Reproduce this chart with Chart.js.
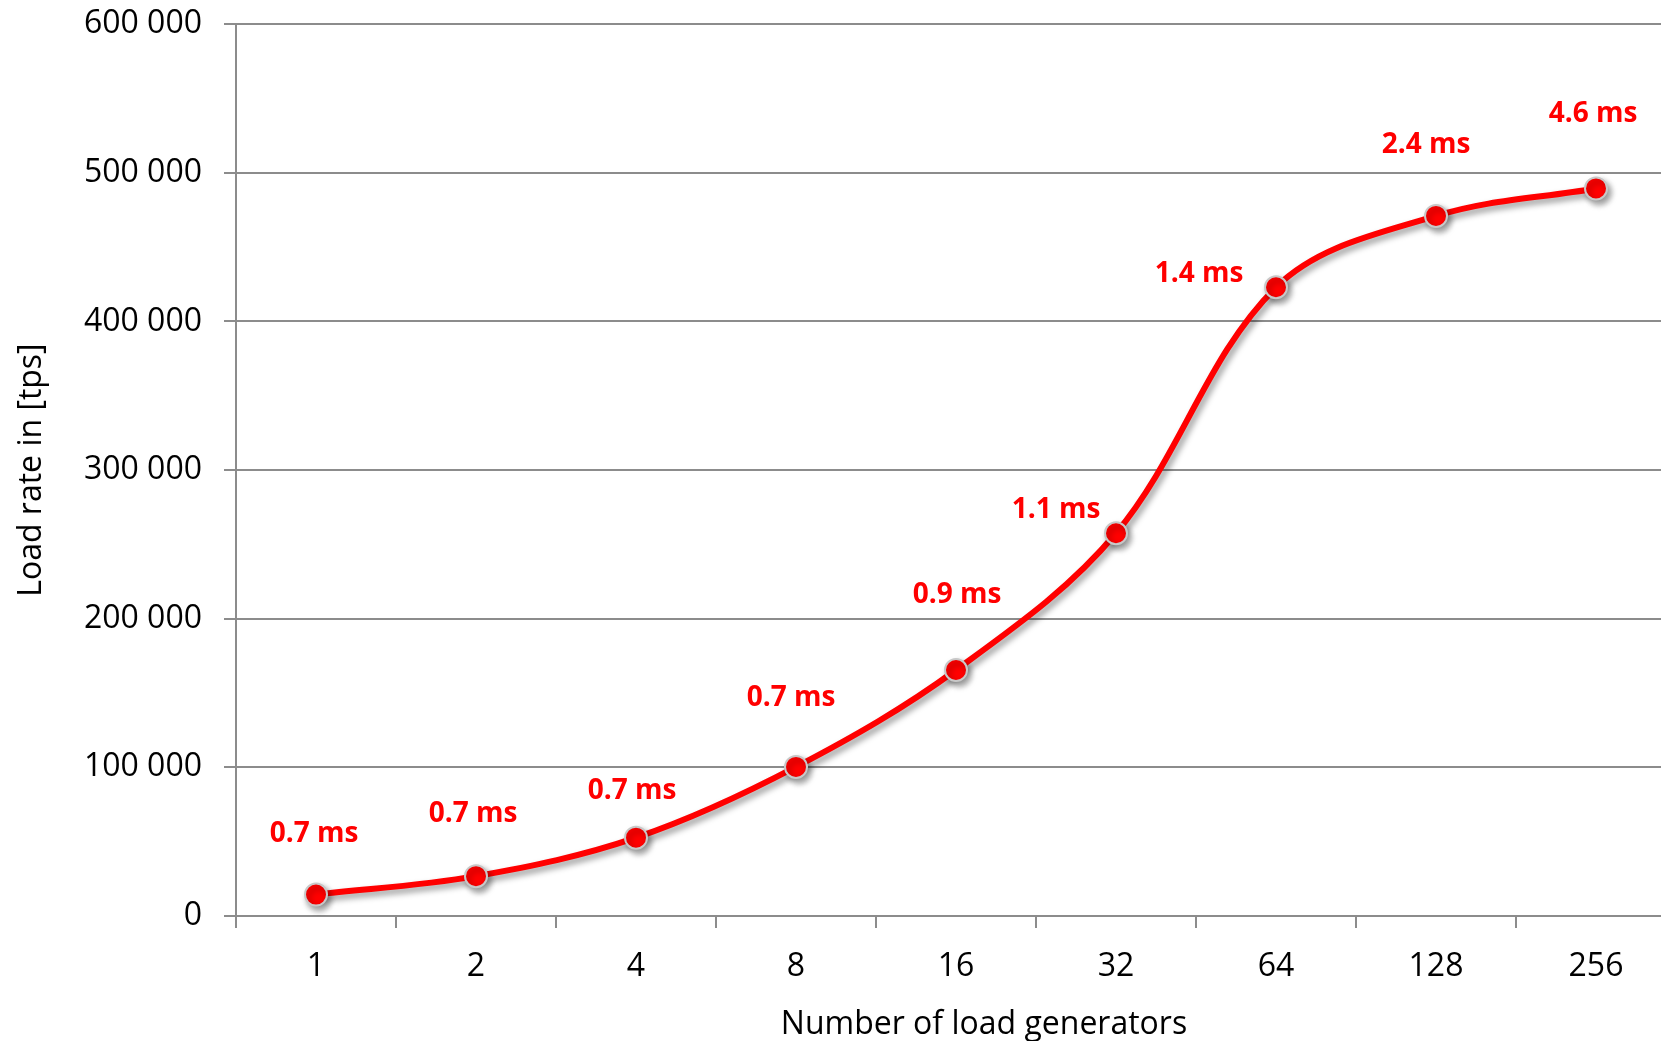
<!DOCTYPE html>
<html>
<head>
<meta charset="utf-8">
<script src="https://cdn.jsdelivr.net/npm/chart.js@4"></script>
<style>
html,body{margin:0;padding:0;background:#fff;overflow:hidden;width:1661px;height:1041px;}
#wrap{position:absolute;left:0;top:-17px;width:1689px;height:1058px;}
</style>
</head>
<body>
<div id="wrap"><canvas id="c" width="1689" height="1058"></canvas></div>
<script>
const categories = ['1','2','4','8','16','32','64','128','256'];
const loadRate = [14400, 26800, 52700, 100300, 165500, 257500, 423000, 471000, 489500];
const latencyLabels = ['0.7 ms','0.7 ms','0.7 ms','0.7 ms','0.9 ms','1.1 ms','1.4 ms','2.4 ms','4.6 ms'];
const yTicks = [0, 100000, 200000, 300000, 400000, 500000, 600000];
const xTitle = 'Number of load generators';
const yTitle = 'Load rate in [tps]';

const FONT = "'Open Sans', 'DejaVu Sans', sans-serif";
const RED = '#ff0000';
const GRID = '#8c8c8c';

// label placement relative to each point (pixels)
const labelOffsets = [[-2,-61],[-3,-62],[-4,-47],[-5,-69],[1,-75],[-60,-23],[-77,-13],[-10,-71],[-3,-74]];

const fmt = v => v.toString().replace(/\B(?=(\d{3})+(?!\d))/g, ' ');

const shadowPlugin = {
  id: 'shadow',
  beforeDatasetDraw(chart) {
    const ctx = chart.ctx;
    ctx.save();
    ctx.shadowColor = 'rgba(0,0,0,0.4)';
    ctx.shadowBlur = 6;
    ctx.shadowOffsetX = 3;
    ctx.shadowOffsetY = 4;
  },
  afterDatasetDraw(chart) {
    chart.ctx.restore();
  }
};

const labelPlugin = {
  id: 'latLabels',
  afterDatasetsDraw(chart) {
    const ctx = chart.ctx;
    const meta = chart.getDatasetMeta(0);
    ctx.save();
    ctx.font = "bold 28px " + FONT;
    ctx.fillStyle = RED;
    ctx.textAlign = 'center';
    ctx.textBaseline = 'middle';
    meta.data.forEach((pt, i) => {
      const o = labelOffsets[i];
      ctx.fillText(latencyLabels[i], pt.x + o[0], pt.y + o[1]);
    });
    ctx.restore();
  }
};

const xTitlePlugin = {
  id: 'xTitle',
  afterDraw(chart) {
    const ctx = chart.ctx;
    const a = chart.chartArea;
    ctx.save();
    ctx.font = "32px " + FONT;
    ctx.fillStyle = '#000';
    ctx.textAlign = 'center';
    ctx.textBaseline = 'middle';
    ctx.fillText(xTitle, (a.left + a.right) / 2 + 28, a.bottom + 109);
    ctx.restore();
  }
};

new Chart(document.getElementById('c'), {
  type: 'line',
  data: {
    labels: categories,
    datasets: [{
      data: loadRate,
      borderColor: RED,
      borderWidth: 6,
      backgroundColor: RED,
      pointBackgroundColor: RED,
      pointBorderColor: '#c8c8c8',
      pointBorderWidth: 2,
      pointRadius: 11,
      tension: 0.35,
      fill: false
    }]
  },
  options: {
    responsive: false,
    animation: false,
    devicePixelRatio: 1,
    layout: { padding: { left: 0, right: 4, top: 4, bottom: 2 } },
    plugins: { legend: { display: false }, tooltip: { enabled: false } },
    scales: {
      x: {
        offset: true,
        grid: { offset: true, drawOnChartArea: false, color: GRID, lineWidth: 2, tickLength: 12 },
        border: { color: GRID, width: 2 },
        ticks: { color: '#000', font: { family: FONT, size: 32 }, padding: 20 },
        title: { display: false },
        afterFit(scale) { scale.height = 123; }
      },
      y: {
        min: 0, max: 600000,
        afterBuildTicks(scale) { scale.ticks = yTicks.map(v => ({ value: v })); },
        grid: { color: GRID, lineWidth: 2, tickLength: 12 },
        border: { color: GRID, width: 2 },
        ticks: { color: '#000', font: { family: FONT, size: 32 }, padding: 22, callback: v => fmt(v) },
        title: { display: true, text: yTitle, color: '#000', font: { family: FONT, size: 32 }, padding: { top: 13, bottom: 0 } },
        afterFit(scale) { scale.width = 236; }
      }
    }
  },
  plugins: [shadowPlugin, labelPlugin, xTitlePlugin]
});
</script>
</body>
</html>
